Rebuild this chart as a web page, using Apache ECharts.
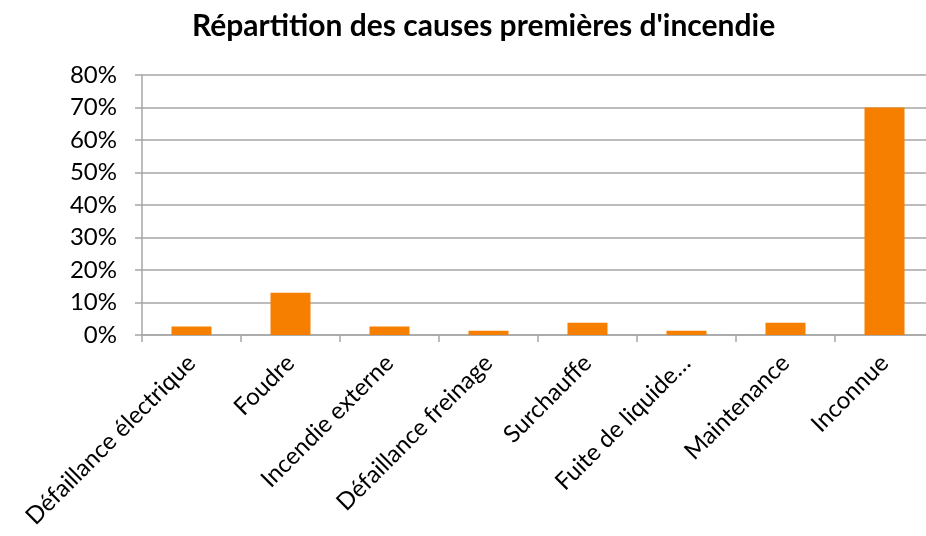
<!DOCTYPE html>
<html>
<head>
<meta charset="UTF-8">
<title>Répartition des causes premières d'incendie</title>
<script src="https://cdn.jsdelivr.net/npm/echarts@6/dist/echarts.min.js"></script>
<style>
  html, body { margin: 0; padding: 0; background: #fff; }
  #chart { width: 926px; height: 536px; }
</style>
</head>
<body>
<div id="chart"></div>
<script>
// causes (catégories)
var causes = ['Défaillance électrique', 'Foudre', 'Incendie externe', 'Défaillance freinage',
  'Surchauffe', 'Fuite de liquide…', 'Maintenance', 'Inconnue'];
// part en %
var parts = [2.6, 13, 2.6, 1.3, 3.8, 1.3, 3.8, 70];
// graduations de l'axe Y
var yMin = 0, yMax = 80, yStep = 10;

var font = 'Lato, "Open Sans", sans-serif';
var grey = '#a6a6a6';

var myChart = echarts.init(document.getElementById('chart'));
var option = {
  animation: false,
  title: {
    text: "Répartition des causes premières d'incendie",
    left: 187,
    top: 6,
    textStyle: { fontFamily: font, fontSize: 30, fontWeight: 'bold', color: '#000' }
  },
  // la zone de tracé dépasse à droite, comme dans l'original
  grid: { left: 142, top: 75, width: 792, height: 260, outerBoundsMode: 'none' },
  xAxis: {
    type: 'category',
    data: causes,
    axisLine: { lineStyle: { color: grey, width: 1.5 } },
    axisTick: { show: true, length: 7, lineStyle: { color: grey, width: 1.5 } },
    axisLabel: {
      rotate: 45,
      margin: 24,
      interval: 0,
      fontFamily: font,
      fontSize: 24,
      color: '#000'
    }
  },
  yAxis: {
    type: 'value',
    min: yMin,
    max: yMax,
    interval: yStep,
    axisLine: { show: true, lineStyle: { color: grey, width: 1.5 } },
    axisTick: { show: true, length: 7, lineStyle: { color: grey, width: 1.5 } },
    splitLine: { lineStyle: { color: grey, width: 1.5 } },
    axisLabel: {
      formatter: '{value}%',
      margin: 25,
      fontFamily: font,
      fontSize: 24,
      color: '#000'
    }
  },
  series: [{
    type: 'bar',
    data: parts,
    barWidth: 40,
    itemStyle: { color: '#f77f00' }
  }]
};
myChart.setOption(option);
</script>
</body>
</html>
